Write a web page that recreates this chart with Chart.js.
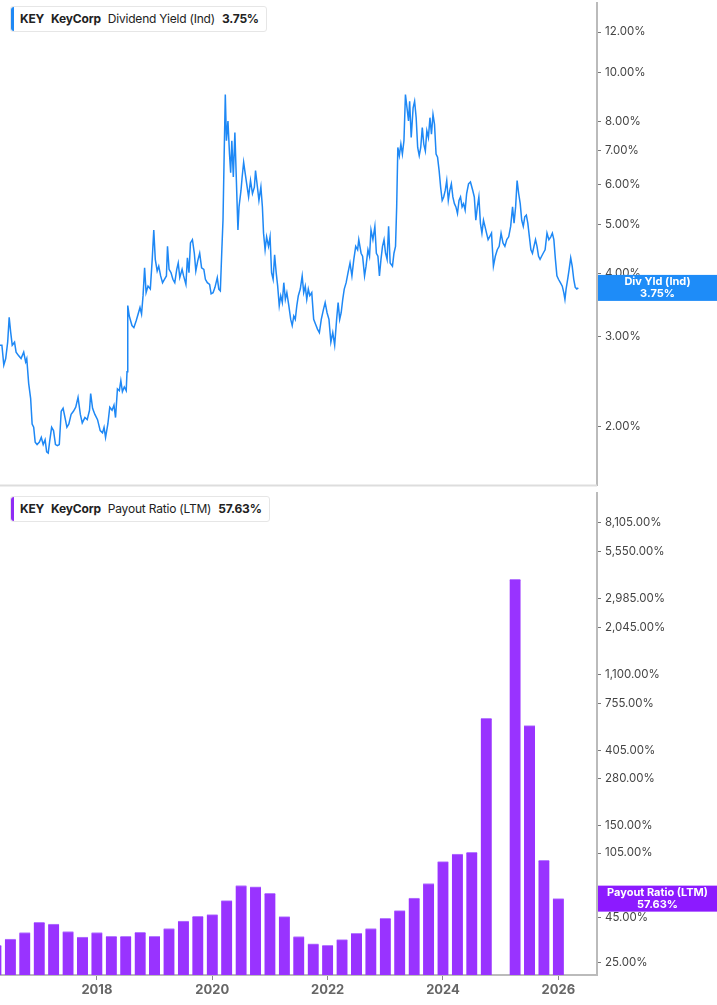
<!DOCTYPE html>
<html><head><meta charset="utf-8">
<script src="https://cdn.jsdelivr.net/npm/chart.js@4"></script>
<style>
body{margin:0;background:#fff;font-family:Inter,"Noto Sans",sans-serif;overflow:hidden}
#top{position:absolute;left:0;top:-8px;width:717px;height:504px;}
#bot{position:absolute;left:0;top:482px;width:717px;height:523px;}
.leg{position:absolute;left:10px;background:#fff;border:1px solid #e6e6e6;border-radius:3px;font-size:12px;letter-spacing:-0.2px;color:#222;padding:0 7px 0 9px;height:24px;line-height:24px;white-space:nowrap}
.leg:before{content:"";position:absolute;left:0;top:0;bottom:0;width:3px;border-radius:3px 0 0 3px;background:var(--c)}
.leg b{font-weight:700;margin-right:7px}.leg span{margin-right:7px}
</style></head><body>
<div id="top"><canvas id="c1"></canvas></div>
<div id="bot"><canvas id="c2"></canvas></div>
<div class="leg" style="top:6px;--c:#1e88f5"><b>KEY</b><b>KeyCorp</b><span>Dividend Yield (Ind)</span><b style="margin:0">3.75%</b></div>
<div class="leg" style="top:496px;--c:#8f2cf5"><b>KEY</b><b>KeyCorp</b><span>Payout Ratio (LTM)</span><b style="margin:0">57.63%</b></div>
<script>
const yieldDates=[2016.320,2016.353,2016.386,2016.419,2016.453,2016.479,2016.506,2016.532,2016.572,2016.599,2016.638,2016.685,2016.731,2016.764,2016.784,2016.817,2016.851,2016.877,2016.904,2016.930,2016.963,2017.003,2017.036,2017.069,2017.102,2017.129,2017.156,2017.182,2017.215,2017.248,2017.282,2017.315,2017.348,2017.381,2017.414,2017.447,2017.480,2017.514,2017.553,2017.593,2017.633,2017.673,2017.713,2017.746,2017.792,2017.832,2017.872,2017.892,2017.925,2017.965,2018.011,2018.057,2018.097,2018.124,2018.150,2018.190,2018.223,2018.263,2018.296,2018.323,2018.356,2018.389,2018.415,2018.442,2018.475,2018.508,2018.522,2018.535,2018.561,2018.608,2018.641,2018.681,2018.721,2018.747,2018.774,2018.800,2018.827,2018.853,2018.886,2018.926,2018.959,2018.986,2019.012,2019.045,2019.072,2019.105,2019.138,2019.171,2019.205,2019.224,2019.251,2019.284,2019.317,2019.350,2019.384,2019.410,2019.437,2019.477,2019.503,2019.543,2019.569,2019.596,2019.622,2019.656,2019.689,2019.715,2019.748,2019.782,2019.815,2019.854,2019.881,2019.914,2019.954,2019.980,2020.014,2020.047,2020.087,2020.113,2020.140,2020.166,2020.186,2020.206,2020.226,2020.246,2020.272,2020.299,2020.319,2020.339,2020.365,2020.392,2020.418,2020.445,2020.464,2020.498,2020.518,2020.544,2020.564,2020.597,2020.630,2020.663,2020.697,2020.730,2020.750,2020.783,2020.809,2020.843,2020.869,2020.889,2020.916,2020.942,2020.975,2021.002,2021.028,2021.055,2021.081,2021.108,2021.134,2021.161,2021.187,2021.214,2021.240,2021.267,2021.293,2021.327,2021.360,2021.386,2021.413,2021.439,2021.466,2021.492,2021.526,2021.559,2021.585,2021.612,2021.638,2021.665,2021.691,2021.725,2021.758,2021.791,2021.824,2021.857,2021.890,2021.930,2021.957,2021.990,2022.023,2022.056,2022.089,2022.122,2022.156,2022.182,2022.209,2022.235,2022.262,2022.288,2022.321,2022.354,2022.388,2022.421,2022.454,2022.487,2022.520,2022.540,2022.580,2022.606,2022.640,2022.666,2022.699,2022.726,2022.752,2022.785,2022.819,2022.845,2022.872,2022.898,2022.925,2022.951,2022.978,2023.004,2023.031,2023.057,2023.084,2023.124,2023.150,2023.177,2023.197,2023.217,2023.243,2023.270,2023.296,2023.323,2023.349,2023.376,2023.402,2023.422,2023.449,2023.482,2023.508,2023.535,2023.561,2023.588,2023.614,2023.641,2023.667,2023.694,2023.720,2023.747,2023.774,2023.800,2023.827,2023.853,2023.880,2023.906,2023.933,2023.959,2023.986,2024.012,2024.039,2024.065,2024.092,2024.118,2024.145,2024.171,2024.198,2024.224,2024.251,2024.278,2024.304,2024.331,2024.357,2024.384,2024.410,2024.443,2024.476,2024.516,2024.543,2024.569,2024.596,2024.622,2024.649,2024.675,2024.702,2024.728,2024.755,2024.782,2024.808,2024.841,2024.874,2024.907,2024.941,2024.974,2025.007,2025.040,2025.073,2025.106,2025.139,2025.173,2025.206,2025.232,2025.259,2025.285,2025.312,2025.339,2025.365,2025.392,2025.418,2025.445,2025.471,2025.498,2025.524,2025.551,2025.577,2025.604,2025.630,2025.657,2025.683,2025.710,2025.737,2025.770,2025.803,2025.836,2025.869,2025.896,2025.922,2025.949,2025.975,2026.002,2026.035,2026.068,2026.094,2026.114,2026.134,2026.161,2026.187,2026.214,2026.240,2026.267,2026.293,2026.320,2026.346];
const yieldValues=[2.89,2.89,2.64,2.72,2.93,3.28,3.06,2.89,2.93,2.80,2.76,2.72,2.80,2.68,2.72,2.43,2.27,2.02,1.99,1.86,1.84,1.86,1.90,1.84,1.88,1.78,1.77,1.87,1.99,1.96,1.84,1.83,1.84,2.14,2.17,2.08,1.99,2.02,2.11,2.14,2.18,2.28,2.11,2.03,2.08,2.06,2.15,2.32,2.17,2.11,2.06,1.96,1.94,1.99,1.90,2.02,2.18,2.15,2.20,2.08,2.37,2.35,2.46,2.34,2.39,2.35,2.56,3.46,3.30,3.16,3.13,3.23,3.35,3.43,3.33,3.62,4.11,3.67,3.78,3.73,4.27,4.88,4.27,4.05,4.14,3.96,3.84,3.90,3.96,4.53,4.08,4.02,3.90,3.84,4.08,4.20,3.93,4.08,3.96,3.81,4.30,4.02,4.60,4.67,4.39,4.05,4.24,4.39,4.11,4.08,3.90,3.84,3.81,3.65,3.67,3.76,3.93,3.73,3.70,4.46,5.10,6.84,9.03,7.32,8.01,6.89,6.33,7.32,6.21,7.60,6.11,4.88,5.42,5.84,6.21,6.64,6.39,6.02,5.67,6.11,5.76,5.93,6.39,5.93,5.58,5.93,5.42,4.81,4.46,4.73,4.53,4.73,4.02,3.90,4.36,4.02,3.78,3.46,3.62,3.51,3.84,3.56,3.67,3.46,3.25,3.16,3.30,3.25,3.46,3.62,3.73,3.96,3.67,3.78,3.56,3.73,3.62,3.67,3.25,3.18,3.11,3.06,3.25,3.41,3.51,3.35,3.25,2.93,3.06,2.89,3.25,3.51,3.25,3.35,3.56,3.73,3.84,4.02,4.20,3.96,4.27,4.53,4.46,4.67,4.39,4.33,3.96,4.14,4.46,4.33,4.88,4.67,4.96,4.39,4.33,3.96,4.27,4.53,4.67,4.39,4.27,4.96,4.20,4.14,4.39,4.53,5.42,7.10,6.84,7.21,6.89,7.32,9.03,8.50,8.01,8.76,7.43,8.50,8.76,8.13,7.10,6.84,7.10,7.77,7.21,6.99,7.66,7.43,8.13,7.54,8.25,7.89,6.89,6.79,6.39,5.93,5.58,5.67,5.84,6.11,5.58,5.84,6.02,5.67,5.50,5.42,5.26,5.58,5.67,5.42,5.50,5.34,5.76,6.02,6.07,5.84,5.67,5.10,5.42,5.67,5.03,4.81,5.10,4.96,4.81,4.67,4.73,4.81,4.14,4.33,4.46,4.53,4.81,4.60,4.53,4.67,4.73,4.96,5.42,5.03,5.42,6.11,5.76,5.50,5.10,4.96,5.18,5.22,5.03,4.73,4.46,4.39,4.53,4.67,4.53,4.33,4.27,4.33,4.39,4.46,4.81,4.67,4.73,4.81,4.67,4.27,3.96,3.90,3.84,3.78,3.67,3.56,3.73,3.90,4.08,4.30,4.14,3.90,3.76,3.73,3.75];
const payoutDates=[2016.25,2016.5,2016.75,2017.0,2017.25,2017.5,2017.75,2018.0,2018.25,2018.5,2018.75,2019.0,2019.25,2019.5,2019.75,2020.0,2020.25,2020.5,2020.75,2021.0,2021.25,2021.5,2021.75,2022.0,2022.25,2022.5,2022.75,2023.0,2023.25,2023.5,2023.75,2024.0,2024.25,2024.5,2024.75,2025.0,2025.25,2025.5,2025.75,2026.0];
const payoutValues=[31.2,33.8,36.9,42.2,41.3,37.4,34.8,36.9,35.1,35.1,37.0,35.1,38.9,42.9,45.6,46.7,56.1,68.5,67.3,61.7,45.5,35.0,31.8,31.2,33.6,36.5,38.9,44.5,49.2,58.0,70.3,93.7,103.7,106,617,null,3850,562,95.3,57.63];
const yieldTicks=[2,3,4,5,6,7,8,10,12];
const payoutTicks=[25,45,55,105,150,280,405,755,1100,2045,2985,5550,8105];
const yearTicks=[2018,2020,2022,2024,2026];
const X_MIN=2016.32, X_MAX=2026.67;

const fmt=v=>v.toLocaleString('en-US',{minimumFractionDigits:2,maximumFractionDigits:2})+'%';
const tickFont={family:'Inter',size:11.5};
function badge(color,label,value){
  return {id:'badge',afterDraw(ch){
    const y=ch.scales.y.getPixelForValue(value),c=ch.ctx,x=ch.chartArea.right+1;
    c.save();c.fillStyle=color;c.fillRect(x,y-13,717-x,26);
    c.fillStyle='#fff';c.font='bold 11px Inter';c.textAlign='center';c.textBaseline='middle';
    c.fillText(label,x+(717-x)/2,y-6);c.fillText(fmt(value),x+(717-x)/2,y+6);c.restore();}};
}
function yAxis(min,max,ticks){
  return {type:'logarithmic',position:'right',min,max,
    afterBuildTicks(s){s.ticks=ticks.map(v=>({value:v}));},
    afterFit(s){s.width=120;},
    grid:{drawOnChartArea:false,tickLength:4,color:'#777'},
    border:{color:'#bbb',width:2},
    ticks:{color:'#444',font:tickFont,padding:4,callback:v=>fmt(v)}};
}
const sepLine={id:'sep',afterDraw(ch){const c=ch.ctx;c.save();c.strokeStyle='#ddd';c.lineWidth=2;
  c.beginPath();c.moveTo(0,ch.chartArea.bottom+0.5);c.lineTo(ch.chartArea.right,ch.chartArea.bottom+0.5);c.stroke();c.restore();}};

new Chart(document.getElementById('c1'),{
  type:'line',
  data:{datasets:[{data:yieldDates.map((d,i)=>({x:d,y:yieldValues[i]})),borderColor:'#1e88f5',borderWidth:1.5,pointRadius:0,tension:0}]},
  options:{responsive:true,maintainAspectRatio:false,animation:false,
    layout:{padding:0},
    plugins:{legend:{display:false},tooltip:{enabled:false}},
    scales:{x:{type:'linear',min:X_MIN,max:X_MAX,display:false},
      y:yAxis(1.53,13.7,yieldTicks)}},
  plugins:[badge('#1e8cf8','Div Yld (Ind)',3.75),sepLine]
});

new Chart(document.getElementById('c2'),{
  type:'bar',
  data:{datasets:[{data:payoutDates.map((d,i)=>({x:d,y:payoutValues[i]})),backgroundColor:'#9933ff',borderColor:'#b57aff',borderWidth:{top:1,left:0,right:0,bottom:0},barThickness:11}]},
  options:{responsive:true,maintainAspectRatio:false,animation:false,
    layout:{padding:0},
    plugins:{legend:{display:false},tooltip:{enabled:false}},
    scales:{x:{type:'linear',min:X_MIN,max:X_MAX,offset:false,
        afterBuildTicks(s){s.ticks=yearTicks.map(v=>({value:v}));},
        afterFit(s){s.height=30;},
        grid:{drawOnChartArea:false,tickLength:5,color:'#888',offset:false},
        border:{color:'#bbb',width:2},
        ticks:{color:'#666',font:{family:'Inter',size:13,weight:'bold'},padding:2,callback:v=>String(v)}},
      y:yAxis(21.1,12000,payoutTicks)}},
  plugins:[badge('#8c1aff','Payout Ratio (LTM)',57.63)]
});
</script></body></html>
